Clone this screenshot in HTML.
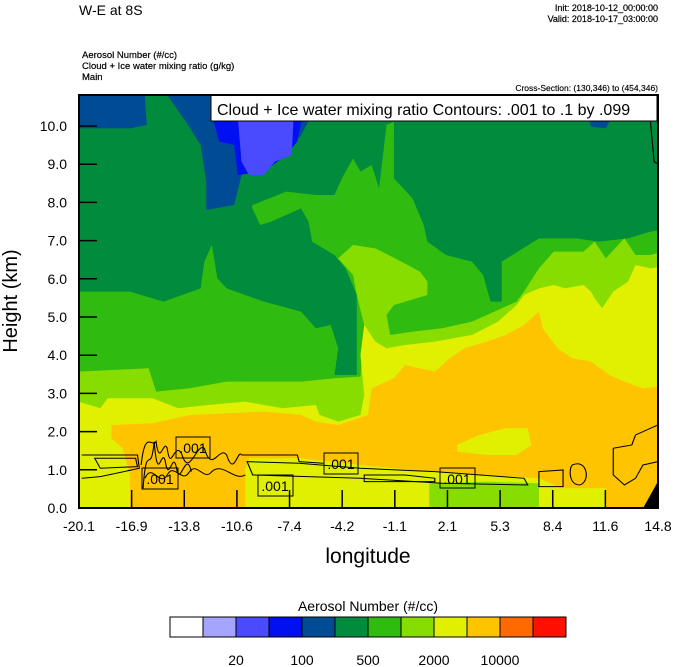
<!DOCTYPE html>
<html><head><meta charset="utf-8"><style>
html,body{margin:0;padding:0;background:#fff;}
svg{display:block;font-family:"Liberation Sans",sans-serif;}
</style></head><body>
<svg id="chart" width="674" height="667" viewBox="0 0 674 667" xmlns="http://www.w3.org/2000/svg">
<text x="79" y="15" font-size="14">W-E at 8S</text>
<text x="658" y="11" font-size="9" text-anchor="end" stroke="#000" stroke-width="0.2">Init: 2018-10-12_00:00:00</text>
<text x="658" y="22" font-size="9" text-anchor="end" stroke="#000" stroke-width="0.2">Valid: 2018-10-17_03:00:00</text>
<text x="82" y="58" font-size="9.5" stroke="#000" stroke-width="0.2">Aerosol Number   (#/cc)</text>
<text x="82" y="69" font-size="9.5" stroke="#000" stroke-width="0.2">Cloud + Ice water mixing ratio   (g/kg)</text>
<text x="82" y="80" font-size="9.5" stroke="#000" stroke-width="0.2">Main</text>
<text x="658" y="91" font-size="8.5" text-anchor="end" stroke="#000" stroke-width="0.15">Cross-Section: (130,346) to (454,346)</text>

<defs><clipPath id="pc"><rect x="79" y="95" width="579" height="413"/></clipPath></defs>
<g clip-path="url(#pc)">
<g transform="translate(78,95) scale(0.3717,0.3333)">
<rect x="0" y="0" width="1600" height="1300" fill="#008c3c"/>
<polygon fill="#004c94" points="0,0 180,0 185,90 140,100 0,100"/>
<polygon fill="#004c94" points="240,0 640,0 620,80 600,120 560,180 480,220 440,240 420,330 345,345 345,260 330,150 290,80"/>
<polygon fill="#004c94" points="1370,60 1440,60 1420,100 1380,95"/>
<polygon fill="#0010f0" points="360,60 605,60 590,140 560,180 500,230 430,240 420,150 380,140"/>
<polygon fill="#4a4aff" points="430,70 580,70 575,180 530,200 500,240 460,240 440,200"/>
<polygon fill="#30bb10" points="0,590 140,590 230,620 330,580 340,500 360,450 375,550 470,330 560,290 640,300 690,300 710,250 740,190 760,230 790,210 810,280 830,90 850,80 850,250 900,310 930,390 940,440 990,480 1060,500 1090,540 1110,620 1140,620 1140,500 1240,430 1340,430 1400,440 1480,430 1540,410 1600,400 1600,1300 0,1300"/>
<polygon fill="#008c3c" points="375,550 465,330 490,390 520,380 600,340 620,380 630,440 690,480 720,520 750,600 750,840 690,840 700,760 680,690 640,700 600,650 500,620 400,580"/>
<polygon fill="#88dd00" points="0,830 190,820 210,890 300,880 400,860 500,860 600,860 690,850 760,845 770,690 750,600 740,540 700,490 740,450 800,460 870,500 920,530 940,560 940,600 850,630 830,660 840,720 900,710 980,700 1060,680 1100,660 1140,640 1180,620 1200,590 1240,520 1280,470 1360,470 1390,440 1420,490 1470,430 1500,480 1540,480 1600,460 1600,1300 0,1300"/>
<polygon fill="#e0f000" points="0,920 60,940 80,910 200,910 270,940 350,930 450,920 550,940 640,930 650,960 700,980 760,960 770,900 760,780 770,690 800,740 830,760 880,750 960,740 1010,730 1060,720 1130,680 1180,630 1200,600 1240,580 1280,570 1310,580 1360,570 1380,590 1390,610 1410,640 1440,590 1480,560 1500,510 1540,520 1600,510 1600,1300 0,1300"/>
<polygon fill="#ffc400" points="90,990 200,985 300,960 400,955 500,950 600,960 640,980 700,990 780,960 790,880 850,850 880,810 960,830 1000,790 1040,760 1100,740 1150,720 1200,690 1240,650 1250,700 1290,760 1330,790 1380,800 1430,840 1470,860 1520,880 1600,870 1600,1300 140,1300 140,1140 120,1060 90,1030"/>
<polygon fill="#e0f000" points="1020,1050 1080,1020 1150,1000 1210,1000 1220,1050 1180,1080 1100,1080 1020,1070"/>
<polygon fill="#e0f000" points="450,1300 450,1120 460,1090 600,1090 760,1110 940,1130 1240,1150 1300,1180 1420,1180 1420,1300"/>
<polygon fill="#88dd00" points="945,1165 1100,1160 1240,1165 1240,1300 945,1300"/>
<polygon fill="#000" points="1600,1130 1600,1300 1490,1300 1565,1150"/>
<g fill="none" stroke="#000" stroke-width="3">
<path d="M10,1080 L160,1080 L165,1120 L60,1145 L10,1150"/>
<path d="M45,1090 L155,1090 L160,1115 L60,1120 Z"/>
<path d="M170,1110 C180,1000 200,1060 210,1040 C220,1120 230,1030 240,1060 C250,1140 260,1030 280,1080 C300,1150 320,1040 340,1060 C360,1140 380,1050 400,1080 C420,1150 430,1060 440,1080"/>
<path d="M175,1180 C185,1030 195,1150 205,1040 C215,1180 225,1050 235,1100 C245,1170 255,1060 265,1120 C275,1180 290,1060 305,1130"/>
<path d="M180,1150 C200,1100 220,1180 240,1140 C260,1100 280,1170 300,1130 C320,1100 340,1160 360,1130 C390,1100 420,1160 450,1140"/>
<path d="M440,1080 L590,1080 L595,1100 L660,1105"/>
<path d="M455,1100 L595,1105 L760,1120 L960,1130 L1200,1150 L1210,1170 L980,1165 L760,1150 L470,1140 Z"/>
<path d="M770,1140 L880,1140 L960,1150 L960,1160 L870,1160 L770,1160 Z"/>
<path d="M1240,1130 L1305,1125 L1305,1175 L1240,1175 Z"/>
<path d="M1330,1110 C1370,1090 1380,1160 1350,1170 C1320,1170 1320,1120 1330,1110 Z"/>
<path d="M1440,1060 L1490,1050 L1500,1020 L1540,1000 L1560,990 M1440,1060 L1440,1140 L1470,1170 L1500,1150 L1520,1110 L1560,1100"/>
<path d="M1540,80 L1550,200 L1565,210"/>
</g>
</g>
<g font-size="14" text-anchor="middle">
<rect x="176" y="437" width="34" height="21" fill="none" stroke="#000" stroke-width="1"/><text x="193" y="453">.001</text>
<rect x="142" y="468" width="36" height="21" fill="none" stroke="#000" stroke-width="1"/><text x="160" y="484">.001</text>
<rect x="258" y="475" width="35" height="21" fill="none" stroke="#000" stroke-width="1"/><text x="275" y="491">.001</text>
<rect x="324" y="453" width="34" height="21" fill="none" stroke="#000" stroke-width="1"/><text x="341" y="469">.001</text>
<rect x="440" y="468" width="35" height="20" fill="none" stroke="#000" stroke-width="1"/><text x="457" y="484">.001</text>
</g>
<rect x="211" y="95" width="446" height="26" fill="#fff" stroke="#000" stroke-width="1"/>
<text x="217" y="115" font-size="16">Cloud + Ice water mixing ratio Contours: .001 to .1 by .099</text>
</g>
<rect x="79" y="95" width="579" height="413" fill="none" stroke="#000" stroke-width="2"/>
<g id="axes"></g>
<text x="368" y="563" font-size="21" text-anchor="middle">longitude</text>
<text transform="translate(17,301) rotate(-90)" font-size="20" text-anchor="middle">Height (km)</text>
<text x="368" y="611" font-size="14" text-anchor="middle">Aerosol Number  (#/cc)</text>
<g id="cbar"></g>
<script>
const xTickLabels=["-20.1","-16.9","-13.8","-10.6","-7.4","-4.2","-1.1","2.1","5.3","8.4","11.6","14.8"];
const yTickValues=[0,1,2,3,4,5,6,7,8,9,10];
const cbarColors=["#ffffff","#a5a5ff","#4a4aff","#0010f0","#004c94","#008c3c","#30bb10","#88dd00","#e0f000","#ffc400","#ff6a00","#ff1000"];
const cbarLabels=["20","100","500","2000","10000"];
const cbarLabelIdx=[2,4,6,8,10];
const NS="http://www.w3.org/2000/svg";
const X0=79,X1=658,Y0=508,YPK=38.2;
function xs(i){return X0+(X1-X0)*i/(xTickLabels.length-1);}
function ys(v){return Y0-v*YPK;}
const ax=document.getElementById('axes');
function mk(t,a,p){const e=document.createElementNS(NS,t);for(const k in a)e.setAttribute(k,a[k]);p.appendChild(e);return e;}
xTickLabels.forEach((l,i)=>{
 const t=mk('line',{x1:xs(i),x2:xs(i),y1:Y0,y2:Y0-18,stroke:'#000','stroke-width':1.5},ax);
 
 
 const s=mk('text',{x:xs(i),y:Y0+23,'font-size':14,'text-anchor':'middle'},ax);s.textContent=l;
 
 
});
yTickValues.forEach(v=>{
 const t=mk('line',{x1:X0,x2:X0+18,y1:ys(v),y2:ys(v),stroke:'#000','stroke-width':1.5},ax);
 
 
 const s=mk('text',{x:67,y:ys(v)+5,'font-size':14,'text-anchor':'end'},ax);s.textContent=v.toFixed(1);
 
 
});
const cb=document.getElementById('cbar');
const CX=170,CW=33,CY=617,CH=20;
cbarColors.forEach((c,i)=>{
 const r=mk('rect',{x:CX+i*CW,y:CY,width:CW,height:CH,fill:c,stroke:'#000','stroke-width':1},cb);
 
 
});
cbarLabels.forEach((l,j)=>{
 const s=mk('text',{x:CX+(cbarLabelIdx[j]+0)*CW,y:665,'font-size':14,'text-anchor':'middle'},cb);s.textContent=l;
 
 
});
</script>
</svg>
</body></html>
